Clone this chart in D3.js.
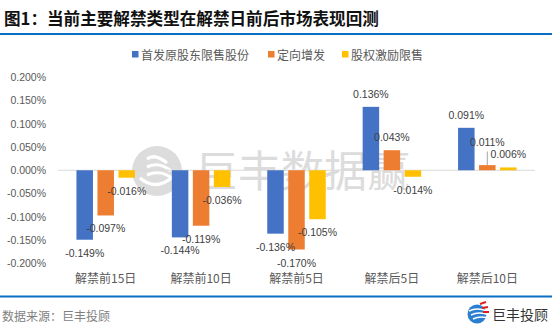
<!DOCTYPE html>
<html><head><meta charset="utf-8">
<script src="https://cdn.jsdelivr.net/npm/d3@7/dist/d3.min.js"></script>
<style>
html,body{margin:0;padding:0;background:#fff;}
svg{display:block;}
text{font-family:"Noto Sans CJK SC","Noto Sans",sans-serif;}
</style></head>
<body>
<svg id="chart" width="552" height="331"></svg>
<script>
const title = "图1：当前主要解禁类型在解禁日前后市场表现回测";
const categories = ["解禁前15日","解禁前10日","解禁前5日","解禁后5日","解禁后10日"];
const seriesNames = ["首发原股东限售股份","定向增发","股权激励限售"];
const seriesBlue = [-0.149,-0.144,-0.136,0.136,0.091];
const seriesOrange = [-0.097,-0.119,-0.170,0.043,0.011];
const seriesYellow = [-0.016,-0.036,-0.105,-0.014,0.006];
const yTicks = [0.2,0.15,0.1,0.05,0,-0.05,-0.1,-0.15,-0.2];
const sourceText = "数据来源：巨丰投顾";
const watermarkText = "巨丰数据赢";
const logoText = "巨丰投顾";

const colors = ["#4472c4","#ed7d31","#ffc000"];
const series = [seriesBlue, seriesOrange, seriesYellow];
const svg = d3.select("#chart");

// Title & rules
svg.append("text").attr("x",4).attr("y",17.5).attr("dominant-baseline","central")
  .attr("font-size",16.6).attr("font-weight","bold").attr("fill","#111").text(title);
svg.append("rect").attr("x",0).attr("y",33).attr("width",552).attr("height",2).attr("fill","#0a6fc2");
svg.append("rect").attr("x",0).attr("y",295.5).attr("width",552).attr("height",2).attr("fill","#0a6fc2");

// Legend
const legendX = [132,268,342];
seriesNames.forEach((n,i)=>{
  svg.append("rect").attr("x",legendX[i]).attr("y",51).attr("width",6.5).attr("height",6.5).attr("fill",colors[i]);
  svg.append("text").attr("x",legendX[i]+9).attr("y",54.5).attr("dominant-baseline","central")
    .attr("font-size",12).attr("fill","#595959").text(n);
});

// Scales
const y = d3.scaleLinear().domain([-0.2,0.2]).range([263.5,77]);
const x = d3.scaleBand().domain(categories).range([58,535]);
const barW = 16.5, step = 21;

// Watermark (behind bars)
const wm = svg.append("g");
wm.append("circle").attr("cx",157).attr("cy",171).attr("r",25).attr("fill","#dcdcdc");
[[-12,8],[-4,12],[4,14]].forEach(([dy,r])=>{
  wm.append("path").attr("d",`M${147} ${171+dy} q ${r} ${-6} ${r+12} ${4}`)
    .attr("fill","none").attr("stroke","#fff").attr("stroke-width",3.2);
});
wm.append("path").attr("d","M140 178 q 16 14 34 -2").attr("fill","none").attr("stroke","#fff").attr("stroke-width",3.2);
wm.append("text").attr("x",195).attr("y",168).attr("dominant-baseline","central")
  .attr("font-size",43).attr("fill","#dcdcdc").text(watermarkText);

// Y axis
const yAxis = svg.append("g").attr("transform","translate(46,0)")
  .call(d3.axisLeft(y).tickValues(yTicks).tickSize(0).tickPadding(0).tickFormat(d=>d.toFixed(3)+"%"));
yAxis.select(".domain").remove();
yAxis.selectAll("text").attr("font-size",10.5).attr("fill","#595959")
  .style("font-family","'Liberation Sans',Arial,sans-serif");

// Zero line
svg.append("line").attr("x1",58).attr("x2",535).attr("y1",y(0)).attr("y2",y(0))
  .attr("stroke","#d9d9d9").attr("stroke-width",1);

// Bars
series.forEach((vals,si)=>{
  svg.append("g").selectAll("rect").data(vals).join("rect")
    .attr("x",(d,ci)=>x(categories[ci])+x.bandwidth()/2+(si-1)*step-barW/2)
    .attr("width",barW)
    .attr("y",d=>Math.min(y(d),y(0)))
    .attr("height",d=>Math.abs(y(d)-y(0)))
    .attr("fill",colors[si]);
});

// Labels with simple overlap avoidance
const labels = [];
categories.forEach((c,ci)=>{
  series.forEach((vals,si)=>{
    const v = vals[ci];
    const cx = x(c)+x.bandwidth()/2+(si-1)*step;
    const cy = v>=0 ? y(v)-13 : y(v)+13;
    labels.push({ci,si,v,cx,cy,end:y(v),w:39,h:11,moved:false});
  });
});
categories.forEach((c,ci)=>{
  const ls = labels.filter(l=>l.ci===ci);
  for(let i=ls.length-2;i>=0;i--){
    const a=ls[i], b=ls[i+1];
    if(a.v>=0 && b.v>=0 && Math.abs(a.cx-b.cx)<(a.w+b.w)/2 && Math.abs(a.cy-b.cy)<a.h){
      a.cy = b.cy-12; a.moved=true;
    }
  }
});
labels.forEach(l=>{
  svg.append("text").attr("x",l.cx).attr("y",l.cy).attr("text-anchor","middle")
    .attr("dominant-baseline","central").attr("font-size",10.5).attr("fill","#404040")
    .style("font-family","'Liberation Sans',Arial,sans-serif")
    .text(l.v.toFixed(3)+"%");
  if(l.moved){
    svg.append("line").attr("x1",l.cx).attr("x2",l.cx).attr("y1",l.cy+9).attr("y2",l.end)
      .attr("stroke","#a6a6a6").attr("stroke-width",1);
  }
});

// X axis labels
const xAxis = svg.append("g").attr("transform","translate(0,274)")
  .call(d3.axisBottom(x).tickSize(0).tickPadding(0));
xAxis.select(".domain").remove();
xAxis.selectAll("text").attr("font-size",12).attr("fill","#595959").attr("dy","0.75em")
  .style("font-family","'Noto Sans CJK SC',sans-serif");

// Source
svg.append("text").attr("x",2).attr("y",315).attr("dominant-baseline","central")
  .attr("font-size",12).attr("fill","#7f7f7f").text(sourceText);

// Logo
const lg = svg.append("g");
lg.append("circle").attr("cx",477).attr("cy",314).attr("r",9.5).attr("fill","#2a7fd0");
[[0,0],[2,4],[4,8]].forEach(([a,b])=>{
  lg.append("path").attr("d",`M${469+a} ${311+b} q 8 -4 18 0`).attr("fill","none").attr("stroke","#fff").attr("stroke-width",1.4);
});
[[480,304,486,302],[482,308,488,307],[483,312,489,312]].forEach(([x1,y1,x2,y2])=>{
  lg.append("line").attr("x1",x1).attr("y1",y1).attr("x2",x2).attr("y2",y2).attr("stroke","#e02020").attr("stroke-width",2);
});
svg.append("text").attr("x",492).attr("y",313.5).attr("dominant-baseline","central")
  .attr("font-size",14).attr("fill","#333").text(logoText);
</script>
</body></html>
